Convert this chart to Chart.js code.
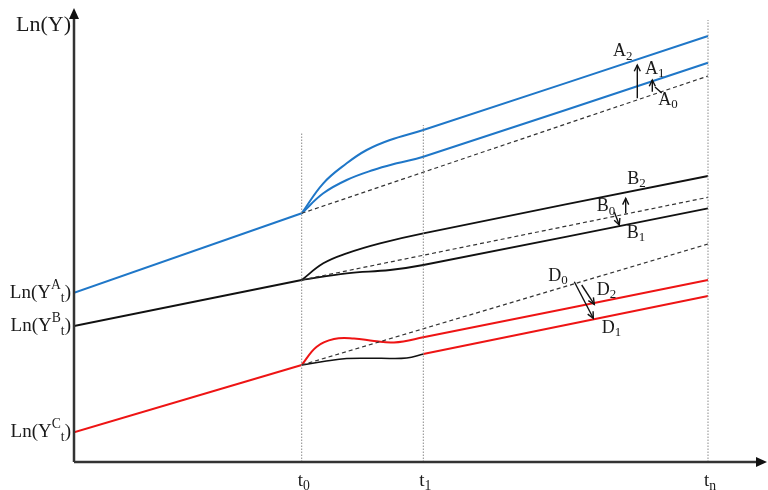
<!DOCTYPE html>
<html>
<head>
<meta charset="utf-8">
<script src="https://cdn.jsdelivr.net/npm/chart.js@4/dist/chart.umd.min.js"></script>
<style>
  body { margin: 0; background: #fff; }
  #wrap { width: 768px; height: 490px; position: relative; }
</style>
</head>
<body>
<div id="wrap"><canvas id="growth"></canvas></div>
<script>
// x = time (t0, t1, tn marks), y = Ln(Y)
var T0 = 227.7, T1 = 349.3, TN = 634;
var timeMarks = [T0, T1, TN];
var timeNames = ['0', '1', 'n'];
var markTops = [329, 337, 442];

// country A (blue)
var baseA = [[0, 169.3], [T0, 248.7]];
var trendA0 = [[T0, 248.7], [TN, 386]];
var pathA1 = [[T0, 248.7], [249.3, 268.7], [272.7, 282], [299.3, 292], [322.7, 298.7], [T1, 305.3], [TN, 399.3]];
var pathA2 = [[T0, 248.7], [249.3, 278.7], [272.7, 298.7], [292.7, 312], [316, 322], [T1, 332], [TN, 426]];

// country B (black)
var baseB = [[0, 136], [T0, 182]];
var trendB0 = [[T0, 182], [TN, 264.7]];
var pathB2 = [[T0, 182], [249.3, 198.7], [272.7, 208.7], [306, 218.7], [T1, 228.7], [TN, 286]];
var pathB1 = [[T0, 182], [272.7, 188.7], [316, 192], [T1, 197], [TN, 253.7]];

// country C (red)
var baseC = [[0, 29.7], [T0, 97]];
var trendD0 = [[T0, 97], [TN, 218]];
var pathD2 = [[T0, 97], [242.7, 115.3], [260, 123], [280, 123.5], [300, 121], [320, 119.5], [T1, 124.7], [TN, 182]];
var pathD1a = [[T0, 97], [249.3, 100.5], [272.7, 103.5], [306, 103.7], [332.7, 104], [T1, 108]];
var pathD1b = [[T1, 108], [TN, 166]];

var blue = '#1f77c8', black = '#111111', red = '#ee1414', dashC = '#333333';

function pts(a) { return a.map(function (p) { return {x: p[0], y: p[1]}; }); }
function line(data, color, width, dash, curve) {
  return {
    data: pts(data), borderColor: color, borderWidth: width, borderDash: dash || [],
    pointRadius: 0, fill: false, tension: curve ? 0.4 : 0
  };
}

var datasets = [];
timeMarks.forEach(function (t, i) {
  datasets.push(line([[t, 0], [t, markTops[i]]], '#8a8a8a', 1, [1.5, 1.5]));
});
datasets.push(
  line(trendA0, dashC, 1.2, [4, 3]),
  line(trendB0, dashC, 1.2, [4, 3]),
  line(trendD0, dashC, 1.2, [4, 3]),
  line(baseA, blue, 2), line(pathA1, blue, 2, null, true), line(pathA2, blue, 2, null, true),
  line(baseB, black, 1.8), line(pathB2, black, 1.8, null, true), line(pathB1, black, 1.8, null, true),
  line(pathD1a, black, 1.5, null, true),
  line(baseC, red, 2), line(pathD2, red, 2, null, true), line(pathD1b, red, 2)
);

// annotation letters: [letter, index, x, y]
var letters = [
  ['A', '2', 539, 410.3], ['A', '1', 571, 393], ['A', '0', 584.3, 362],
  ['B', '2', 553.3, 283], ['B', '0', 522.7, 255.5], ['B', '1', 552.7, 229],
  ['D', '0', 474.3, 186], ['D', '2', 522.7, 172], ['D', '1', 527.7, 134]
];
// arrows: [x1, y1, x2, y2, head]
var arrows = [
  [563.3, 363.7, 563.3, 397, true], [578.3, 370.3, 578.3, 382, true], [581, 375, 587.7, 369, false],
  [551.7, 248.7, 551.7, 263.7, true], [540.3, 250, 545.3, 237, true],
  [500.3, 180.3, 519.3, 143.7, true], [507.7, 177, 520.3, 157.7, true]
];
var sideNames = ['A', 'B', 'C'];

var FONT = '"Liberation Serif", "Times New Roman", serif';

function rich(ctx, parts, x, y, size, align) {
  var w = 0;
  parts.forEach(function (p) {
    ctx.font = (p[1] ? size * 0.72 : size) + 'px ' + FONT;
    p.w = ctx.measureText(p[0]).width;
    w += p.w;
  });
  var cx = align === 'right' ? x - w : (align === 'center' ? x - w / 2 : x);
  parts.forEach(function (p) {
    ctx.font = (p[1] ? size * 0.72 : size) + 'px ' + FONT;
    var dy = p[1] === 'sup' ? -size * 0.4 : (p[1] === 'sub' ? size * 0.28 : 0);
    ctx.fillText(p[0], cx, y + dy);
    cx += p.w;
  });
}

function arrow(ctx, x1, y1, x2, y2, head) {
  ctx.beginPath(); ctx.moveTo(x1, y1); ctx.lineTo(x2, y2); ctx.stroke();
  if (!head) return;
  var a = Math.atan2(y2 - y1, x2 - x1), L = 7;
  ctx.beginPath();
  ctx.moveTo(x2 - L * Math.cos(a - 0.45), y2 - L * Math.sin(a - 0.45));
  ctx.lineTo(x2, y2);
  ctx.lineTo(x2 - L * Math.cos(a + 0.45), y2 - L * Math.sin(a + 0.45));
  ctx.stroke();
}

var deco = {
  id: 'deco',
  afterDatasetsDraw: function (chart) {
    var ctx = chart.ctx, x = chart.scales.x, y = chart.scales.y;
    var ox = x.getPixelForValue(0), oy = y.getPixelForValue(0);
    ctx.save();
    // axes with arrow heads
    ctx.strokeStyle = '#333'; ctx.fillStyle = '#111'; ctx.lineWidth = 2.5;
    ctx.beginPath();
    ctx.moveTo(ox, oy); ctx.lineTo(ox, chart.chartArea.top + 8);
    ctx.moveTo(ox, oy); ctx.lineTo(chart.chartArea.right - 8, oy);
    ctx.stroke();
    ctx.beginPath();
    ctx.moveTo(ox, chart.chartArea.top); ctx.lineTo(ox - 5, chart.chartArea.top + 11); ctx.lineTo(ox + 5, chart.chartArea.top + 11);
    ctx.closePath(); ctx.fill();
    ctx.beginPath();
    ctx.moveTo(chart.chartArea.right - 1, oy); ctx.lineTo(chart.chartArea.right - 12, oy - 5); ctx.lineTo(chart.chartArea.right - 12, oy + 5);
    ctx.closePath(); ctx.fill();

    ctx.fillStyle = '#1a1a1a';
    ctx.textBaseline = 'middle';
    rich(ctx, [['Ln(Y)']], ox - 3, 25, 22, 'right');
    [baseA, baseB, baseC].forEach(function (b, i) {
      rich(ctx, [['Ln(Y'], [sideNames[i], 'sup'], ['t', 'sub'], [')']], ox - 3, y.getPixelForValue(b[0][1]), 19, 'right');
    });
    timeMarks.forEach(function (t, i) {
      rich(ctx, [['t'], [timeNames[i], 'sub']], x.getPixelForValue(t) + 2, oy + 19, 19, 'center');
    });
    letters.forEach(function (l) {
      rich(ctx, [[l[0]], [l[1], 'sub']], x.getPixelForValue(l[2]), y.getPixelForValue(l[3]), 18, 'left');
    });

    ctx.strokeStyle = '#111'; ctx.lineWidth = 1.4;
    arrows.forEach(function (a) {
      arrow(ctx, x.getPixelForValue(a[0]), y.getPixelForValue(a[1]), x.getPixelForValue(a[2]), y.getPixelForValue(a[3]), a[4]);
    });
    ctx.restore();
  }
};

new Chart(document.getElementById('growth').getContext('2d'), {
  type: 'line',
  data: { datasets: datasets },
  options: {
    responsive: true,
    maintainAspectRatio: false,
    animation: false,
    layout: { padding: { left: 74, right: 0, top: 8, bottom: 28 } },
    plugins: { legend: { display: false }, tooltip: { enabled: false } },
    scales: {
      x: { type: 'linear', min: 0, max: 694, display: false },
      y: { type: 'linear', min: 0, max: 454, display: false }
    }
  },
  plugins: [deco]
});
</script>
</body>
</html>
